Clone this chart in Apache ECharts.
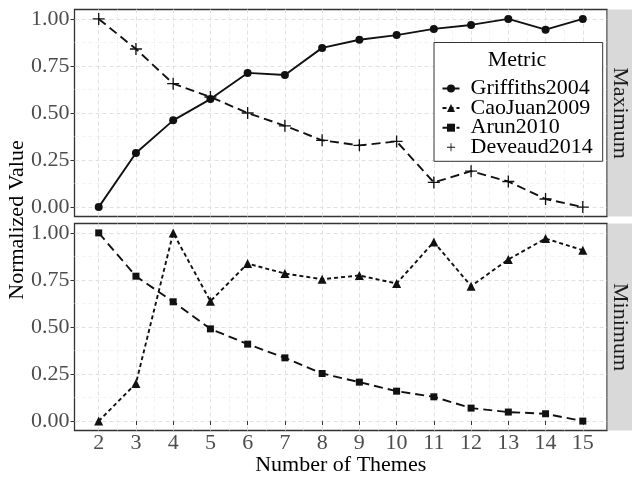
<!DOCTYPE html>
<html><head><meta charset="utf-8">
<script src="https://cdn.jsdelivr.net/npm/echarts@6/dist/echarts.min.js"></script>
<style>html,body{margin:0;padding:0;background:#fff}#c{width:632px;height:477px}</style>
</head><body><div id="c"></div>
<script>
// ---- data ----
const themes = [2, 3, 4, 5, 6, 7, 8, 9, 10, 11, 12, 13, 14, 15];
const griffiths2004 = [0.000, 0.287, 0.461, 0.574, 0.713, 0.702, 0.846, 0.889, 0.914, 0.947, 0.968, 1.000, 0.943, 1.000];
const deveaud2014   = [1.000, 0.840, 0.656, 0.585, 0.500, 0.432, 0.355, 0.328, 0.349, 0.131, 0.191, 0.136, 0.043, 0.000];
const caoJuan2009   = [0.000, 0.200, 1.000, 0.637, 0.837, 0.784, 0.754, 0.774, 0.731, 0.952, 0.717, 0.859, 0.970, 0.908];
const arun2010      = [1.000, 0.770, 0.634, 0.490, 0.409, 0.336, 0.253, 0.207, 0.159, 0.129, 0.069, 0.048, 0.039, 0.000];
const seriesNames = ['Griffiths2004', 'CaoJuan2009', 'Arun2010', 'Deveaud2014'];
const panelNames = ['Maximum', 'Minimum'];
const legendTitle = 'Metric';
const xTitle = 'Number of Themes';
const yTitle = 'Normalized Value';
const yTicks = [0, 0.25, 0.5, 0.75, 1];
const yMinorTicks = [0.125, 0.375, 0.625, 0.875];
const xMinorTicks = [2.5, 3.5, 4.5, 5.5, 6.5, 7.5, 8.5, 9.5, 10.5, 11.5, 12.5, 13.5, 14.5];

// ---- layout / style ----
const FF = 'Liberation Serif';
const PL = 74.5, PW = 532.5, PH = 207;
const panelTops = [9.5, 223.5];
const XMIN = 1.35, XMAX = 15.65, YMIN = -0.05, YMAX = 1.05;
const INK = '#111';
const majorGrid = {color: '#E0E0E0', width: 1, type: [4, 3]};
const minorGrid = {color: '#EEEEEE', width: 0.7, type: [4, 3]};

const grids = panelTops.map(t => ({left: PL, top: t, width: PW, height: PH, show: true,
  borderColor: '#333', borderWidth: 1.3, backgroundColor: 'transparent'}));

const xAxes = [], yAxes = [];
panelTops.forEach((t, gi) => {
  const bottom = gi === 1;
  xAxes.push({type: 'value', gridIndex: gi, min: XMIN, max: XMAX, position: 'bottom',
    axisLine: {show: false},
    axisTick: {show: bottom, customValues: themes, length: 4, lineStyle: {color: '#333', width: 1}},
    axisLabel: {show: bottom, customValues: themes, margin: 2, fontSize: 22, color: '#4D4D4D', fontFamily: FF,
      formatter: v => String(v)},
    splitLine: {show: true, lineStyle: majorGrid}, z: 1});
  xAxes.push({type: 'value', gridIndex: gi, min: XMIN, max: XMAX, position: 'top',
    axisLine: {show: false}, axisTick: {show: false, customValues: xMinorTicks}, axisLabel: {show: false},
    splitLine: {show: true, lineStyle: minorGrid}, z: 0});
  yAxes.push({type: 'value', gridIndex: gi, min: YMIN, max: YMAX, position: 'left',
    axisLine: {show: false},
    axisTick: {show: true, customValues: yTicks, length: 4, lineStyle: {color: '#333', width: 1}},
    axisLabel: {customValues: yTicks, margin: 5, fontSize: 22, color: '#4D4D4D', fontFamily: FF,
      formatter: v => v.toFixed(2)},
    splitLine: {show: true, lineStyle: majorGrid}, z: 1});
  yAxes.push({type: 'value', gridIndex: gi, min: YMIN, max: YMAX, position: 'right',
    axisLine: {show: false}, axisTick: {show: false, customValues: yMinorTicks}, axisLabel: {show: false},
    splitLine: {show: true, lineStyle: minorGrid}, z: 0});
});

const plusPath = 'path://M4.45,0 L5.55,0 L5.55,4.45 L10,4.45 L10,5.55 L5.55,5.55 L5.55,10 L4.45,10 L4.45,5.55 L0,5.55 L0,4.45 L4.45,4.45 Z';
const pairs = vals => themes.map((x, i) => [x, vals[i]]);
function mkSeries(name, vals, axisIdx, symbol, size, dash) {
  return {name, type: 'line', xAxisIndex: axisIdx, yAxisIndex: axisIdx, data: pairs(vals),
    symbol, symbolSize: size, symbolKeepAspect: true, showSymbol: true,
    lineStyle: {color: INK, width: 1.9, type: dash},
    itemStyle: {color: INK}, animation: false, z: 5};
}
const series = [
  mkSeries(seriesNames[0], griffiths2004, 0, 'circle', 8, 'solid'),
  mkSeries(seriesNames[3], deveaud2014, 0, plusPath, 12, [9, 5]),
  mkSeries(seriesNames[1], caoJuan2009, 2, 'triangle', 9, [4, 3]),
  mkSeries(seriesNames[2], arun2010, 2, 'rect', 7, [9, 5])
];

const graphic = [];
panelTops.forEach((t, gi) => {
  graphic.push({type: 'rect', shape: {x: PL + PW + 0.7, y: t, width: 30, height: PH}, style: {fill: '#D9D9D9'}, z: 1});
  graphic.push({type: 'text', x: 620, y: t + PH / 2, rotation: -Math.PI / 2, z: 2,
    style: {text: panelNames[gi], font: '22px ' + FF, fill: '#1A1A1A', align: 'center', verticalAlign: 'middle'}});
});
graphic.push({type: 'text', x: 517, y: 60, z: 100,
  style: {text: legendTitle, font: '22px ' + FF, fill: '#000', align: 'center', verticalAlign: 'middle'}});
graphic.push({type: 'text', x: PL + PW / 2, y: 465, z: 2,
  style: {text: xTitle, font: '22px ' + FF, fill: '#000', align: 'center', verticalAlign: 'middle'}});
graphic.push({type: 'text', x: 17, y: 220, rotation: Math.PI / 2, z: 2,
  style: {text: yTitle, font: '22px ' + FF, fill: '#000', align: 'center', verticalAlign: 'middle'}});

const chart = echarts.init(document.getElementById('c'), null, {renderer: 'canvas'});
chart.setOption({
  animation: false,
  backgroundColor: '#fff',
  textStyle: {fontFamily: FF},
  grid: grids,
  xAxis: xAxes,
  yAxis: yAxes,
  legend: {orient: 'vertical', left: 434, top: 42.5, padding: [35, 10, 3, 7.5], itemGap: -2.4,
    itemWidth: 17, itemHeight: 10, selectedMode: false, backgroundColor: '#fff', borderColor: '#333', borderWidth: 1,
    textStyle: {fontFamily: FF, fontSize: 22, color: '#000', lineHeight: 19.5, padding: [0, 0, 0, 6]},
    data: [{name: seriesNames[0]}, {name: seriesNames[1]}, {name: seriesNames[2]},
           {name: seriesNames[3], lineStyle: {opacity: 0}}], z: 20},
  graphic,
  series
});
</script></body></html>
